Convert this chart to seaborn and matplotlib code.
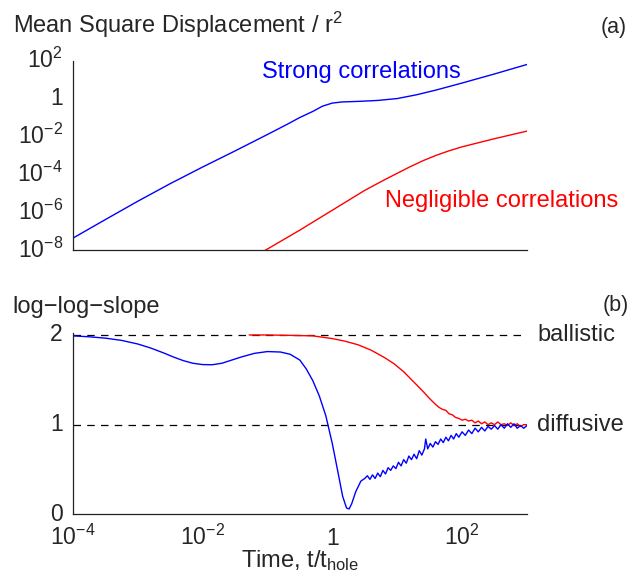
import numpy as np
import pandas as pd
import matplotlib
matplotlib.use('Agg')
import matplotlib.pyplot as plt
import seaborn as sns

# log10(t / t_hole) and log10(MSD / r^2)
strong_msd_logt = [-4, -3.5, -3, -2.5, -2, -1.5, -1, -0.7, -0.5, -0.3, -0.15, 0,
                   0.15, 0.4, 0.7, 1.0, 1.3, 1.6, 2.0, 2.5, 3.0]
strong_msd_logv = [-7.38, -6.40, -5.43, -4.50, -3.62, -2.77, -1.90, -1.37, -1.00, -0.68, -0.40, -0.24,
                   -0.18, -0.15, -0.10, 0.0, 0.20, 0.45, 0.82, 1.30, 1.80]

weak_msd_logt = [-1.1, -1.0, -0.5, 0, 0.5, 0.8, 1.0, 1.2, 1.4, 1.6, 1.8, 2.0, 2.5, 3.0]
weak_msd_logv = [-8.15, -7.95, -6.95, -5.9, -4.85, -4.3, -3.95, -3.6, -3.28, -3.0, -2.76, -2.55,
                 -2.12, -1.72]

# panel (b): local log-log slope
strong_slope_logt = [-4, -3.75, -3.5, -3.25, -3.0, -2.8, -2.6, -2.45, -2.3, -2.15, -2.0, -1.85, -1.7,
                     -1.55, -1.4, -1.2, -1.0, -0.8, -0.65, -0.5, -0.4, -0.3, -0.2, -0.1, 0.0, 0.09,
                     0.16, 0.22, 0.26, 0.30, 0.36, 0.44, 0.5,
                     0.54, 0.58, 0.62, 0.66, 0.70, 0.74, 0.78, 0.82, 0.86, 0.90, 0.94, 0.98, 1.02,
                     1.06, 1.10, 1.14, 1.18, 1.22, 1.26, 1.30, 1.34, 1.38, 1.42, 1.44, 1.47, 1.51,
                     1.55, 1.59, 1.63, 1.67, 1.71, 1.75, 1.79, 1.83, 1.87, 1.91, 1.95, 2.0, 2.05,
                     2.1, 2.15, 2.2, 2.25, 2.3, 2.35, 2.4, 2.45, 2.5, 2.55, 2.6, 2.65, 2.7, 2.75,
                     2.8, 2.85, 2.9, 2.95, 3.0]
strong_slope = [1.99, 1.98, 1.965, 1.94, 1.90, 1.855, 1.80, 1.755, 1.715, 1.685, 1.67, 1.668, 1.685,
                1.72, 1.755, 1.795, 1.815, 1.81, 1.785, 1.72, 1.62, 1.49, 1.32, 1.10, 0.79, 0.46,
                0.20, 0.07, 0.06, 0.12, 0.25, 0.37, 0.40,
                0.43, 0.39, 0.44, 0.40, 0.46, 0.42, 0.49, 0.45, 0.52, 0.49, 0.54, 0.51, 0.58,
                0.54, 0.61, 0.57, 0.65, 0.61, 0.67, 0.62, 0.71, 0.66, 0.73, 0.84, 0.73, 0.79,
                0.75, 0.81, 0.78, 0.84, 0.80, 0.86, 0.82, 0.88, 0.84, 0.90, 0.86, 0.92, 0.88,
                0.94, 0.90, 0.96, 0.92, 0.97, 0.93, 0.98, 0.95, 0.99, 0.95, 1.00, 0.96, 1.01, 0.97,
                1.01, 0.96, 0.99, 0.96, 0.99]

weak_slope_logt = [-1.28, -1.0, -0.6, -0.3, 0.0, 0.2, 0.4, 0.6, 0.8, 0.95, 1.1, 1.25, 1.4,
                   1.5, 1.6, 1.65, 1.7, 1.75, 1.8, 1.85, 1.9, 1.95, 2.0, 2.05, 2.1, 2.15, 2.2,
                   2.25, 2.3, 2.35, 2.4, 2.45, 2.5, 2.55, 2.6, 2.65, 2.7, 2.75, 2.8, 2.85, 2.9,
                   2.95, 3.0]
weak_slope = [2.0, 2.0, 1.995, 1.99, 1.96, 1.93, 1.89, 1.83, 1.75, 1.68, 1.59, 1.48, 1.37,
              1.29, 1.22, 1.19, 1.17, 1.16, 1.12, 1.11, 1.08, 1.07, 1.05, 1.06, 1.04, 1.05, 1.02,
              1.04, 1.01, 1.03, 1.00, 1.02, 1.00, 1.03, 1.00, 1.01, 0.99, 1.02, 0.99, 1.01, 0.98,
              1.00, 1.00]

time_ticks = [1e-4, 1e-2, 1, 1e2]
time_tick_labels = ['$10^{-4}$', '$10^{-2}$', '1', '$10^{2}$']
msd_ticks = [1e-8, 1e-6, 1e-4, 1e-2, 1, 1e2]
msd_tick_labels = ['$10^{-8}$', '$10^{-6}$', '$10^{-4}$', '$10^{-2}$', '1', '$10^{2}$']
slope_ticks = [0, 1, 2]
regimes = {'ballistic': 2, 'diffusive': 1}

sns.set_style('white')
plt.rcParams['font.family'] = ['Liberation Sans', 'DejaVu Sans']
plt.rcParams['mathtext.fontset'] = 'custom'
plt.rcParams['mathtext.rm'] = 'Liberation Sans'
plt.rcParams['mathtext.it'] = 'Liberation Sans:italic'
plt.rcParams['mathtext.default'] = 'regular'

BLUE, RED = '#0000ff', '#ff0000'
TXT = 17
TICK = 16.5

msd_strong = pd.DataFrame({'t': np.power(10.0, strong_msd_logt), 'v': np.power(10.0, strong_msd_logv)})
msd_weak = pd.DataFrame({'t': np.power(10.0, weak_msd_logt), 'v': np.power(10.0, weak_msd_logv)})
sl_strong = pd.DataFrame({'t': np.power(10.0, strong_slope_logt), 'v': strong_slope})
sl_weak = pd.DataFrame({'t': np.power(10.0, weak_slope_logt), 'v': weak_slope})

fig = plt.figure(figsize=(6.4, 5.83), dpi=100)
ax1 = fig.add_axes([0.1136, 0.5712, 0.7098, 0.3247])
ax2 = fig.add_axes([0.1136, 0.1178, 0.7098, 0.3107])

# (a) mean square displacement
sns.lineplot(data=msd_strong, x='t', y='v', ax=ax1, color=BLUE, lw=1.0, estimator=None, sort=False)
sns.lineplot(data=msd_weak, x='t', y='v', ax=ax1, color=RED, lw=1.0, estimator=None, sort=False)
ax1.set_xscale('log')
ax1.set_yscale('log')
ax1.set_xlim(1e-4, 1e3)
ax1.set_ylim(1e-8, 1e2)
ax1.set_xticks(time_ticks)
ax1.set_xticklabels([])
ax1.set_yticks(msd_ticks)
ax1.set_yticklabels(msd_tick_labels)

# (b) log-log slope
for name, val in regimes.items():
    ax2.axhline(val, color='black', lw=0.9, ls=(0, (6, 5)), zorder=1)
    ax2.text(1.022, val, name, transform=ax2.get_yaxis_transform(), fontsize=TXT,
             va='center', ha='left')
sns.lineplot(data=sl_weak, x='t', y='v', ax=ax2, color=RED, lw=1.0, estimator=None, sort=False)
sns.lineplot(data=sl_strong, x='t', y='v', ax=ax2, color=BLUE, lw=1.0, estimator=None, sort=False)
ax2.set_xscale('log')
ax2.set_xlim(1e-4, 1e3)
ax2.set_ylim(0, 2.02)
ax2.set_xticks(time_ticks)
ax2.set_xticklabels(time_tick_labels)
ax2.set_yticks(slope_ticks)
ax2.set_yticklabels([str(s) for s in slope_ticks])

for ax in (ax1, ax2):
    ax.minorticks_off()
    ax.set_xlabel('')
    ax.set_ylabel('')
    sns.despine(ax=ax)
    for s in ('left', 'bottom'):
        ax.spines[s].set_color('#222222')
        ax.spines[s].set_linewidth(0.9)
    ax.tick_params(direction='in', length=4, width=0.8, color='#222222', labelsize=TICK)
    ax.tick_params(axis='y', pad=7)
    for lab in ax.get_yticklabels():
        lab.set_va('center')
ax2.tick_params(axis='x', pad=22)
for lab in ax2.get_xticklabels():
    lab.set_va('baseline')

fig.text(0.0208, 0.9429, 'Mean Square Displacement / r$^2$', fontsize=TXT, va='baseline')
fig.text(0.0198, 0.4631, 'log\u2212log\u2212slope', fontsize=TXT, va='baseline')
fig.text(0.939, 0.952, '(a)', fontsize=15.5, va='center')
fig.text(0.942, 0.4768, '(b)', fontsize=15.5, va='center')
fig.text(0.409, 0.8657, 'Strong correlations', fontsize=TXT, color=BLUE, va='baseline')
fig.text(0.6016, 0.6444, 'Negligible correlations', fontsize=TXT, color=RED, va='baseline')
fig.text(0.469, 0.028, 'Time, t/t$_{hole}$', fontsize=TXT, ha='center', va='baseline')

fig.savefig('out.png', dpi=100)
